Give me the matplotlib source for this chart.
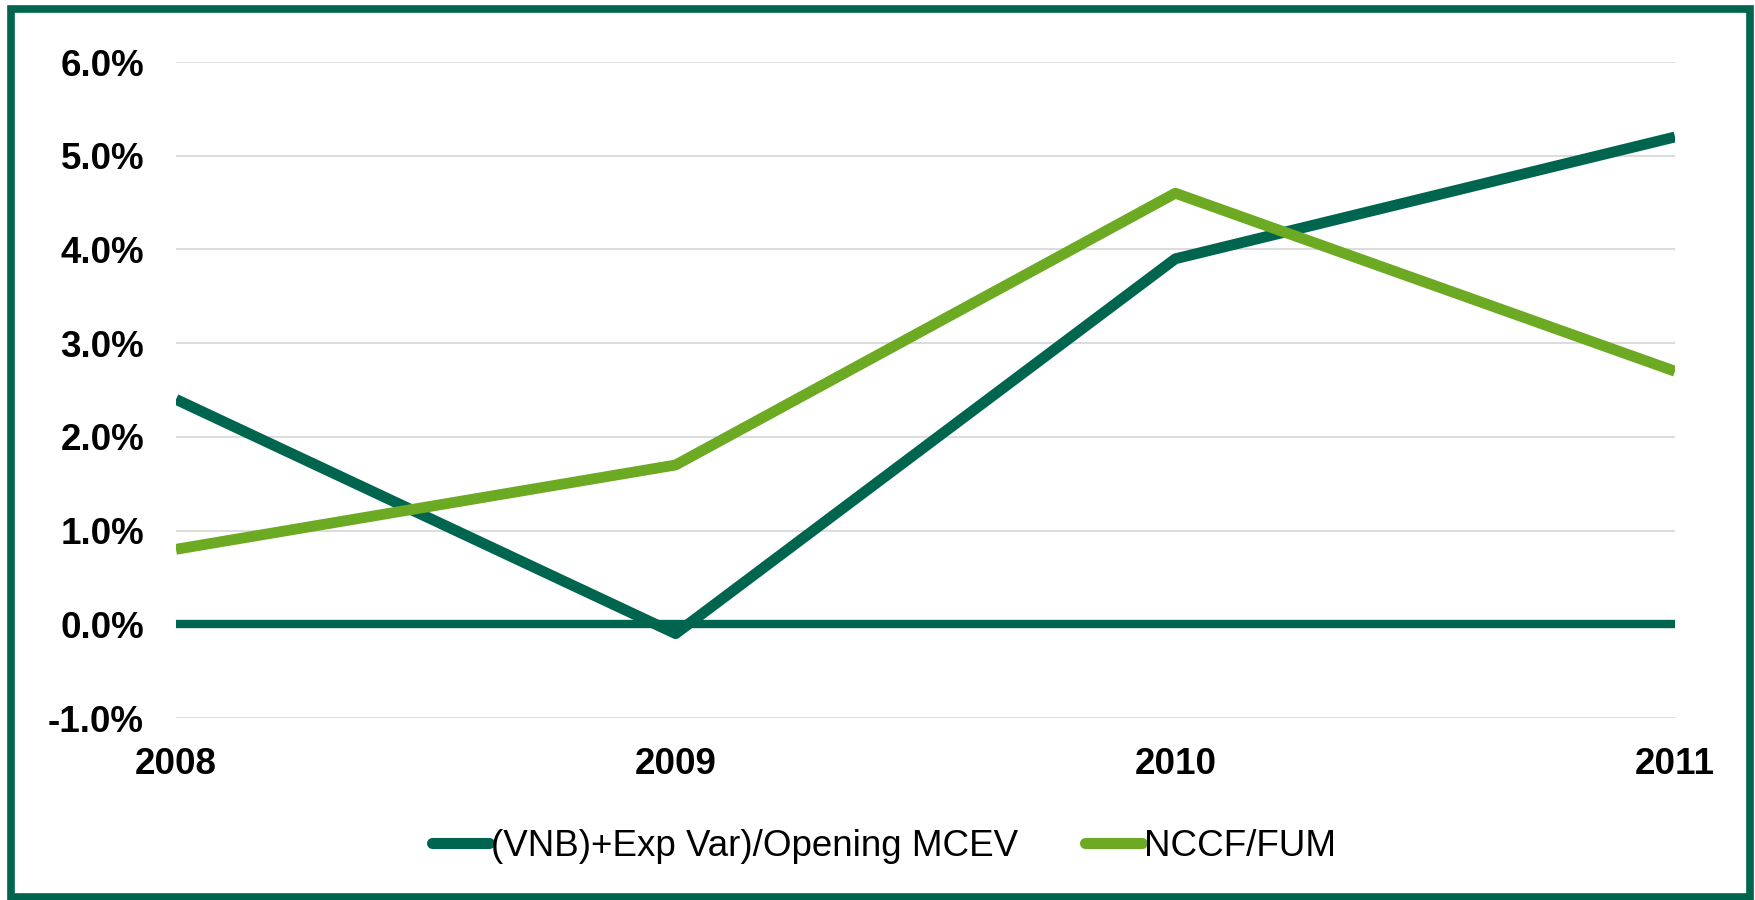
import matplotlib.pyplot as plt
from matplotlib.patches import Rectangle
from matplotlib.ticker import FuncFormatter

plt.rcParams['font.family'] = ['Liberation Sans', 'DejaVu Sans']

# data
years = ['2008', '2009', '2010', '2011']
vnb_mcev = [2.4, -0.1, 3.9, 5.2]
nccf_fum = [0.8, 1.7, 4.6, 2.7]
series_names = ['(VNB)+Exp Var)/Opening MCEV', 'NCCF/FUM']

dark_green = '#00654F'
light_green = '#6DAA23'

fig = plt.figure(figsize=(17.56, 9), dpi=100)
ax = fig.add_axes([176 / 1756, 1 - 718 / 900, (1675 - 176) / 1756, (718 - 62) / 900])

x = list(range(len(years)))

# gridlines and zero axis line
ax.set_yticks(range(-1, 7))
ax.grid(axis='y', color='#D9D9D9', linewidth=1.3)
ax.set_axisbelow(True)
ax.axhline(0, color=dark_green, linewidth=6, zorder=2)

ax.plot(x, vnb_mcev, color=dark_green, linewidth=7.8, solid_joinstyle='round',
        solid_capstyle='butt', label=series_names[0], zorder=3)
ax.plot(x, nccf_fum, color=light_green, linewidth=7.8, solid_joinstyle='round',
        solid_capstyle='butt', label=series_names[1], zorder=3)

ax.set_xlim(0, 3)
ax.set_ylim(-1, 6)
ax.set_xticks(x)
ax.set_xticklabels(years)
ax.yaxis.set_major_formatter(FuncFormatter(lambda v, p: f'{v:.1f}%'))

for lab in ax.get_xticklabels() + ax.get_yticklabels():
    lab.set_fontsize(26.5)
    lab.set_fontweight('bold')

ax.tick_params(axis='both', length=0)
ax.tick_params(axis='y', pad=23)
ax.tick_params(axis='x', pad=21)
for s in ax.spines.values():
    s.set_visible(False)

leg = fig.legend(loc='center', bbox_to_anchor=(884 / 1756, 1 - 846 / 900), ncol=2,
                 frameon=False, fontsize=26.5, handlelength=1.55, handletextpad=0.05,
                 columnspacing=1.8)
for h in leg.get_lines():
    h.set_linewidth(8)
    h.set_solid_capstyle('round')

# outer frame
fig.patches.append(Rectangle((11 / 1756, 3 / 900), 1739 / 1756, 888 / 900,
                             transform=fig.transFigure, fill=False,
                             edgecolor=dark_green, linewidth=5.5, zorder=10))

fig.savefig('out.png', dpi=100)
